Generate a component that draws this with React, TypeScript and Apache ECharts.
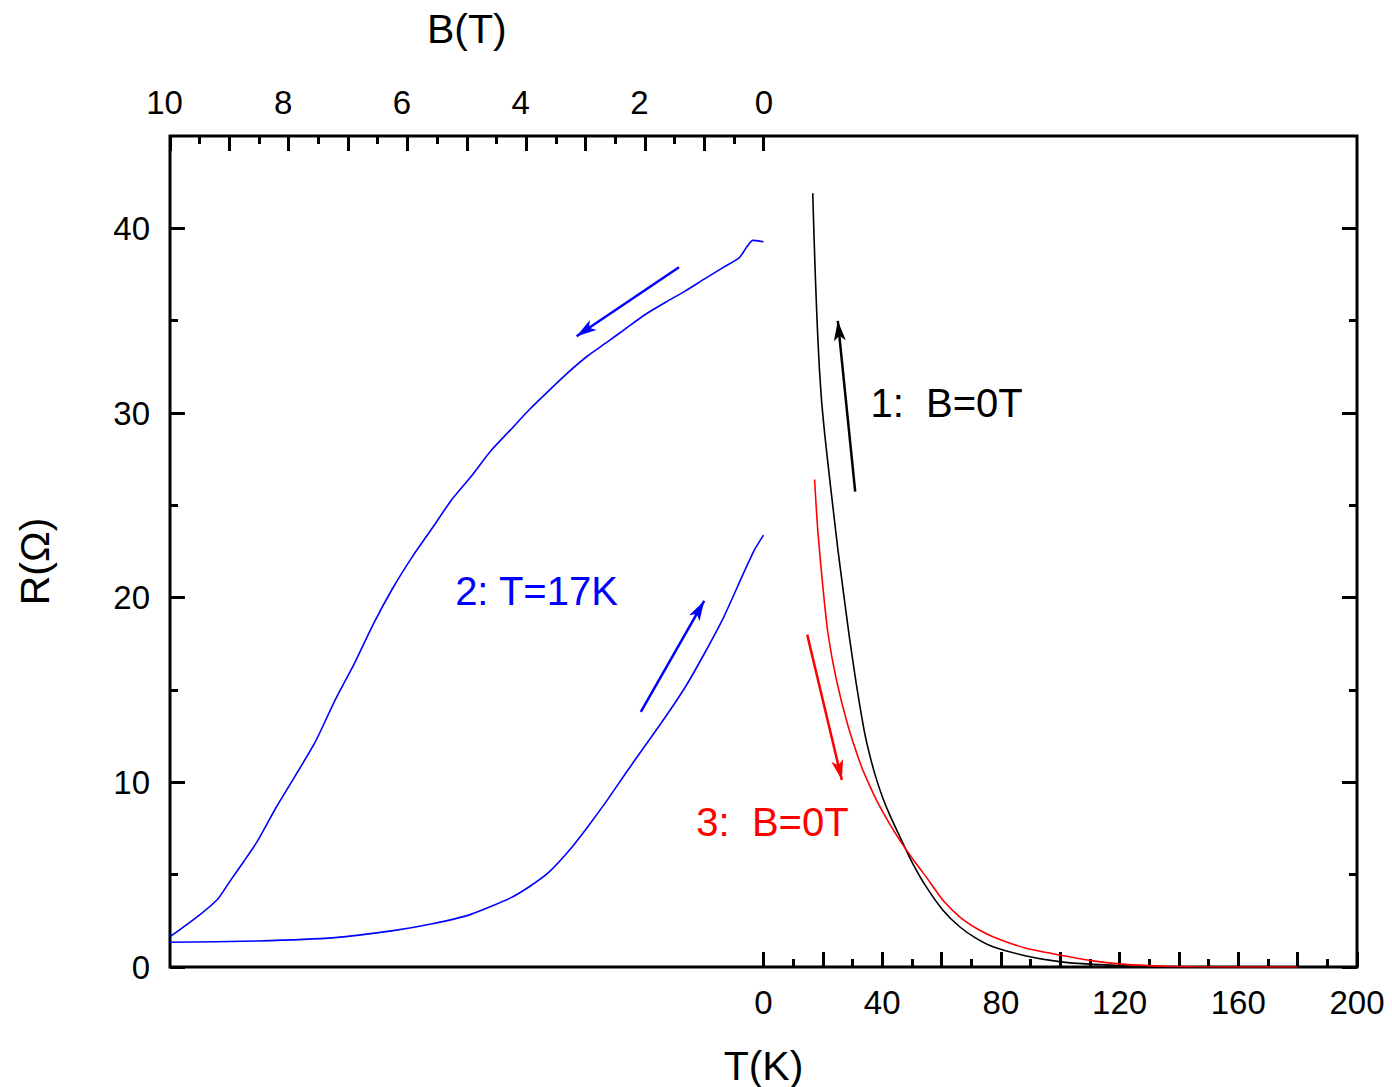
import React, { useEffect, useRef } from "react";
import * as echarts from "echarts";

const FONT = '"Liberation Sans", Arial, Helvetica, sans-serif';

// ---- tick / label values ----
const tempMajorTicks = [0, 20, 40, 60, 80, 100, 120, 140, 160, 180, 200];
const tempMinorTicks = [10, 30, 50, 70, 90, 110, 130, 150, 170, 190];
const tempLabels = [0, 40, 80, 120, 160, 200];
const fieldMajorTicks = [0, 1, 2, 3, 4, 5, 6, 7, 8, 9, 10];
const fieldMinorTicks = [0.5, 1.5, 2.5, 3.5, 4.5, 5.5, 6.5, 7.5, 8.5, 9.5];
const fieldLabels = [0, 2, 4, 6, 8, 10];
const resMajorTicks = [0, 10, 20, 30, 40];
const resMinorTicks = [5, 15, 25, 35];

// ---- curve 1: B = 0 T (black) ----
const curve1T = [16.6, 17.0, 17.5, 18.1, 18.8, 19.6, 20.6, 21.9, 23.4, 25.0, 27.0, 29.0, 31.2, 34.0, 36.0, 38.0, 40.2, 42.5, 46.4, 50.3, 54.8, 60.4, 66.1, 71.7, 77.3, 88.5, 99.7, 111, 122, 135, 150, 180];
const curve1R = [41.9, 39.7, 37.3, 34.8, 32.5, 30.6, 28.9, 27.0, 24.9, 22.7, 20.2, 17.8, 15.4, 12.75, 11.35, 10.2, 9.15, 8.25, 6.9, 5.6, 4.35, 3.09, 2.18, 1.55, 1.1, 0.6, 0.29, 0.14, 0.07, 0.02, 0.0, 0.0];

// ---- curve 3: B = 0 T (red) ----
const curve3T = [17.2, 18.3, 20.0, 21.7, 24.5, 28.4, 32.9, 35.7, 38.5, 42.5, 46.4, 51.4, 54.8, 60.4, 66.1, 71.7, 77.3, 88.5, 99.7, 111, 122, 133.5, 145, 180];
const curve3R = [26.4, 23.6, 20.6, 18.1, 15.6, 13.1, 10.9, 9.85, 8.9, 7.75, 6.75, 5.6, 4.88, 3.63, 2.72, 2.1, 1.64, 1.01, 0.65, 0.33, 0.14, 0.05, 0.01, 0.0];

// ---- curve 2: T = 17 K, field sweep (blue) ----
const sweepUpB = [10.0, 8.53, 7.22, 6.24, 5.58, 4.93, 4.27, 3.94, 3.62, 3.29, 2.96, 2.63, 2.31, 1.98, 1.65, 1.32, 1.0, 0.67, 0.34, 0.15, 0.0];
const sweepUpR = [1.34, 1.41, 1.59, 1.97, 2.34, 2.85, 3.73, 4.36, 5.12, 6.25, 7.6, 9.05, 10.55, 12.05, 13.55, 15.15, 16.95, 18.95, 21.3, 22.6, 23.39];
const sweepDownB = [0.0, 0.18, 0.28, 0.41, 0.67, 1.0, 1.32, 1.65, 1.98, 2.31, 2.63, 2.96, 3.29, 3.62, 3.94, 4.27, 4.6, 4.93, 5.26, 5.58, 5.91, 6.24, 6.57, 6.89, 7.22, 7.55, 7.88, 8.21, 8.53, 8.76, 9.02, 9.19, 9.51, 10.0];
const sweepDownR = [39.27, 39.35, 39.0, 38.4, 37.9, 37.25, 36.6, 36.0, 35.36, 34.6, 33.85, 33.1, 32.2, 31.2, 30.2, 29.06, 27.93, 26.55, 25.28, 23.77, 22.25, 20.55, 18.6, 16.46, 14.44, 12.2, 10.4, 8.65, 6.8, 5.7, 4.5, 3.7, 2.8, 1.64];

// ---- arrows [tail, head] ----
const arrow1 = [[30.9, 25.74], [25.04, 34.99]]; // T, R
const arrow3 = [[14.73, 18.0], [26.4, 10.13]]; // T, R
const arrow2Down = [[1.424, 37.89], [3.149, 34.16]]; // B, R
const arrow2Up = [[2.067, 13.82], [0.999, 19.82]]; // B, R

// ---- annotation labels ----
const label1Text = "1:  B=0T";
const label1At = [61.7, 30.54];
const label2Text = "2: T=17K";
const label2At = [3.825, 20.36];
const label3Text = "3:  B=0T";
const label3At = [3.03, 7.85];

const zip = (xs: number[], ys: number[]) => xs.map((x, i) => [x, ys[i]]);

const tickLine = { color: "#000", width: 3 };

function arrowMark(pts: number[][], color: string) {
  return {
    silent: true,
    animation: false,
    symbol: ["none", "arrow"],
    label: { show: false },
    emphasis: { disabled: true },
    lineStyle: { color, width: 2.5, type: "solid" },
    data: [
      [
        { coord: pts[0], symbol: "none" },
        { coord: pts[1], symbol: "arrow", symbolSize: [9, 20] },
      ],
    ],
  };
}

function textMark(text: string, at: number[], color: string) {
  return {
    silent: true,
    animation: false,
    symbol: "circle",
    symbolSize: 1,
    itemStyle: { color: "rgba(0,0,0,0)" },
    label: {
      show: true,
      position: "inside",
      formatter: text,
      color,
      fontSize: 40,
      fontFamily: FONT,
    },
    data: [{ coord: at }],
  };
}

export default function App() {
  const ref = useRef<HTMLDivElement>(null);
  useEffect(() => {
    if (!ref.current) return;
    const chart = echarts.init(ref.current, undefined, { renderer: "svg" });
    const labelStyle = { color: "#000", fontSize: 33, fontFamily: FONT };
    const nameStyle = { color: "#000", fontSize: 41, fontFamily: FONT };
    const lineCommon = { symbol: "none", silent: true, smooth: 0.2 };
    const option: any = {
      animation: false,
      backgroundColor: "#fff",
      grid: [
        {
          left: 170, top: 136, width: 1187, height: 831,
          show: true, borderColor: "#000", borderWidth: 3, backgroundColor: "transparent",
          containLabel: false, outerBoundsMode: "none",
        },
        {
          left: 170, top: 136, width: 593.5, height: 831,
          show: false, containLabel: false, outerBoundsMode: "none",
        },
      ],
      xAxis: [
        {
          gridIndex: 0, type: "value", position: "bottom", min: -200, max: 200,
          axisLine: { show: false, onZero: false }, splitLine: { show: false },
          axisTick: { show: true, inside: true, length: 15, customValues: tempMajorTicks, lineStyle: tickLine },
          axisLabel: { show: true, customValues: tempLabels, margin: 19, ...labelStyle },
          name: "T(K)", nameLocation: "middle", nameGap: 78, nameTextStyle: nameStyle,
        },
        {
          gridIndex: 0, type: "value", position: "bottom", min: -200, max: 200,
          axisLine: { show: false, onZero: false }, splitLine: { show: false },
          axisTick: { show: true, inside: true, length: 8, customValues: tempMinorTicks, lineStyle: tickLine },
          axisLabel: { show: false },
        },
        {
          gridIndex: 1, type: "value", position: "top", inverse: true, min: 0, max: 10,
          axisLine: { show: false, onZero: false }, splitLine: { show: false },
          axisTick: { show: true, inside: true, length: 15, customValues: fieldMajorTicks, lineStyle: tickLine },
          axisLabel: {
            show: true, customValues: fieldLabels, margin: 17, ...labelStyle,
            formatter: (v: number) => (v === 0 ? "{z|0}" : "{n|" + v + "}"),
            rich: {
              n: { padding: [0, 11, 0, 0], fontSize: 33, fontFamily: FONT, color: "#000" },
              z: { padding: [0, 0, 0, 1], fontSize: 33, fontFamily: FONT, color: "#000" },
            },
          },
          name: "B(T)", nameLocation: "middle", nameGap: 87, nameTextStyle: nameStyle,
        },
        {
          gridIndex: 1, type: "value", position: "top", inverse: true, min: 0, max: 10,
          axisLine: { show: false, onZero: false }, splitLine: { show: false },
          axisTick: { show: true, inside: true, length: 8, customValues: fieldMinorTicks, lineStyle: tickLine },
          axisLabel: { show: false },
        },
      ],
      yAxis: [
        {
          gridIndex: 0, type: "value", position: "left", min: 0, max: 45,
          axisLine: { show: false, onZero: false }, splitLine: { show: false },
          axisTick: { show: true, inside: true, length: 15, customValues: resMajorTicks, lineStyle: tickLine },
          axisLabel: { show: true, customValues: resMajorTicks, margin: 20, ...labelStyle },
          name: "R(Ω)", nameLocation: "middle", nameGap: 115,
          nameTextStyle: { ...nameStyle, padding: [0, 20, 0, 0] },
        },
        {
          gridIndex: 0, type: "value", position: "left", min: 0, max: 45,
          axisLine: { show: false, onZero: false }, splitLine: { show: false },
          axisTick: { show: true, inside: true, length: 8, customValues: resMinorTicks, lineStyle: tickLine },
          axisLabel: { show: false },
        },
        {
          gridIndex: 0, type: "value", position: "right", min: 0, max: 45,
          axisLine: { show: false, onZero: false }, splitLine: { show: false },
          axisTick: { show: true, inside: true, length: 15, customValues: resMajorTicks, lineStyle: tickLine },
          axisLabel: { show: false },
        },
        {
          gridIndex: 0, type: "value", position: "right", min: 0, max: 45,
          axisLine: { show: false, onZero: false }, splitLine: { show: false },
          axisTick: { show: true, inside: true, length: 8, customValues: resMinorTicks, lineStyle: tickLine },
          axisLabel: { show: false },
        },
        { gridIndex: 1, type: "value", min: 0, max: 45, show: false },
      ],
      series: [
        {
          type: "line", name: "1: B=0T", xAxisIndex: 0, yAxisIndex: 0,
          data: zip(curve1T, curve1R), ...lineCommon,
          lineStyle: { color: "#000", width: 1.6 }, itemStyle: { color: "#000" },
          markLine: arrowMark(arrow1, "#000"),
          markPoint: textMark(label1Text, label1At, "#000"),
        },
        {
          type: "line", name: "3: B=0T", xAxisIndex: 0, yAxisIndex: 0,
          data: zip(curve3T, curve3R), ...lineCommon,
          lineStyle: { color: "#ff0000", width: 1.6 }, itemStyle: { color: "#ff0000" },
          markLine: arrowMark(arrow3, "#ff0000"),
          markPoint: textMark(label3Text, label3At, "#ff0000"),
        },
        {
          type: "line", name: "2: T=17K up", xAxisIndex: 2, yAxisIndex: 4,
          data: zip(sweepUpB, sweepUpR), ...lineCommon,
          lineStyle: { color: "#0000ff", width: 1.6 }, itemStyle: { color: "#0000ff" },
          markLine: arrowMark(arrow2Up, "#0000ff"),
          markPoint: textMark(label2Text, label2At, "#0000ff"),
        },
        {
          type: "line", name: "2: T=17K down", xAxisIndex: 2, yAxisIndex: 4,
          data: zip(sweepDownB, sweepDownR), ...lineCommon,
          lineStyle: { color: "#0000ff", width: 1.6 }, itemStyle: { color: "#0000ff" },
          markLine: arrowMark(arrow2Down, "#0000ff"),
        },
      ],
    };
    chart.setOption(option);
    return () => chart.dispose();
  }, []);
  return (
    <div
      ref={ref}
      style={{ position: "absolute", left: 0, top: 0, width: 1392, height: 1087, background: "#fff" }}
    />
  );
}
